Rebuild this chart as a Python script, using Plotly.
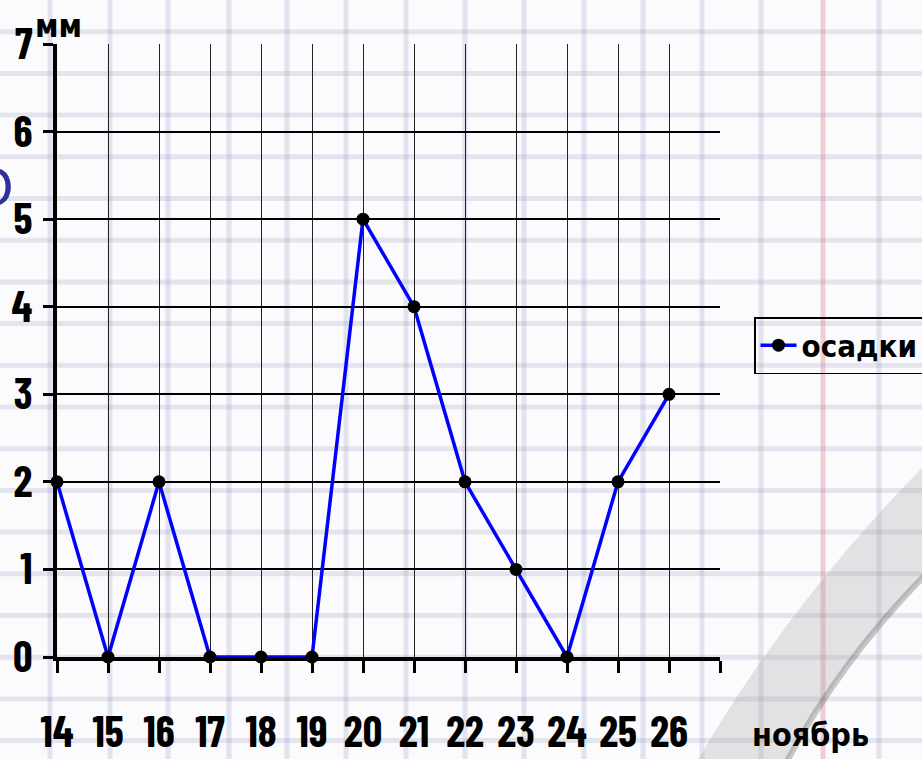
import plotly.graph_objects as go

days = [14, 15, 16, 17, 18, 19, 20, 21, 22, 23, 24, 25, 26]
precip = [2, 0, 2, 0, 0, 0, 5, 4, 2, 1, 0, 2, 3]
x_tickvals = [14, 15, 16, 17, 18, 19, 20, 21, 22, 23, 24, 25, 26, 27]
x_ticktext = ["14", "15", "16", "17", "18", "19", "20", "21", "22", "23", "24", "25", "26", ""]
y_tickvals = [0, 1, 2, 3, 4, 5, 6, 7]
series_name = "осадки"
y_unit = "мм"
x_unit = "ноябрь"

W, H = 922, 759
L, R, T, B = 57, 202, 44, 102
PW, PH = W - L - R, H - T - B

def px(xp):
    return (xp - L) / PW

def py(yp):
    return (H - B - yp) / PH

FONT = "Barlow Condensed, Archivo Narrow, Asap Condensed, DejaVu Sans Condensed, sans-serif"

fig = go.Figure()
fig.add_trace(go.Scatter(
    x=days, y=precip, name=series_name, mode="lines+markers",
    line=dict(color="#0000FF", width=3.5),
    marker=dict(color="black", size=13, symbol="circle"),
    cliponaxis=False,
))

shapes = []
# notebook paper background
for xv in [50, 110, 168, 229, 287, 346, 406, 465, 524, 584, 643, 702, 761, 879]:
    shapes.append(dict(type="line", xref="paper", yref="paper", layer="below",
                       x0=px(xv), x1=px(xv), y0=py(0), y1=py(H),
                       line=dict(color="rgba(140,140,190,0.22)", width=5)))
shapes.append(dict(type="line", xref="paper", yref="paper", layer="below",
                   x0=px(823), x1=px(823), y0=py(0), y1=py(H),
                   line=dict(color="rgba(225,130,140,0.38)", width=5)))
yv = -10.0
while yv < H:
    shapes.append(dict(type="line", xref="paper", yref="paper", layer="below",
                       x0=px(0), x1=px(W), y0=py(yv), y1=py(yv),
                       line=dict(color="rgba(140,140,175,0.20)", width=5)))
    yv += 41.7

def pt(a, b):
    return f"{px(a):.4f},{py(b):.4f}"

# page curl
curl = (f"M {pt(930,460)} Q {pt(790,600)} {pt(695,765)} L {pt(785,765)} "
        f"Q {pt(840,660)} {pt(930,570)} Z")
shapes.append(dict(type="path", xref="paper", yref="paper", layer="below",
                   path=curl, fillcolor="rgba(150,150,150,0.25)",
                   line=dict(color="rgba(0,0,0,0)", width=0)))
edge = f"M {pt(930,570)} Q {pt(840,660)} {pt(785,765)}"
shapes.append(dict(type="path", xref="paper", yref="paper", layer="below",
                   path=edge, line=dict(color="rgba(100,100,100,0.35)", width=6)))

fig.update_layout(
    width=W, height=H,
    margin=dict(l=L, r=R, t=T, b=B, autoexpand=False),
    paper_bgcolor="#fbfbfe",
    plot_bgcolor="rgba(0,0,0,0)",
    shapes=shapes,
    showlegend=True,
    legend=dict(x=px(754), y=py(317), xanchor="left", yanchor="top",
                bgcolor="rgba(0,0,0,0)", bordercolor="black", borderwidth=1.5,
                itemwidth=36,
                font=dict(family=FONT, size=31, color="black", weight="bold")),
    xaxis=dict(range=[14, 27], tickmode="array", tickvals=x_tickvals, ticktext=x_ticktext,
               showgrid=True, gridcolor="#222222", gridwidth=1,
               showline=True, linecolor="black", linewidth=4,
               ticks="outside", ticklen=12, tickwidth=2.5, tickcolor="black",
               ticklabelstandoff=22, zeroline=False,
               tickfont=dict(family=FONT, size=43, color="black", weight="bold")),
    yaxis=dict(range=[0, 7], tickmode="array", tickvals=y_tickvals,
               showgrid=True, gridcolor="black", gridwidth=1.5,
               showline=True, linecolor="black", linewidth=4,
               ticks="outside", ticklen=10, tickwidth=3, tickcolor="black",
               ticklabelstandoff=2, zeroline=False,
               tickfont=dict(family=FONT, size=43, color="black", weight="bold")),
    annotations=[
        dict(text=y_unit, xref="paper", yref="paper", x=px(33), y=py(24),
             xanchor="left", yanchor="middle", showarrow=False,
             font=dict(family=FONT, size=32, color="black", weight="bold")),
        dict(text=x_unit, xref="paper", yref="paper", x=px(750), y=py(733),
             xanchor="left", yanchor="middle", showarrow=False,
             font=dict(family=FONT, size=32, color="black", weight="bold")),
        dict(text="О", xref="paper", yref="paper", x=px(-32), y=py(186),
             xanchor="left", yanchor="middle", showarrow=False,
             font=dict(family="Liberation Sans, Arial, sans-serif", size=56, color="#30309a")),
    ],
)

fig.write_html("out.html", config={"displayModeBar": False},
               post_script="document.body.style.margin='0';document.documentElement.style.overflow='hidden';")
